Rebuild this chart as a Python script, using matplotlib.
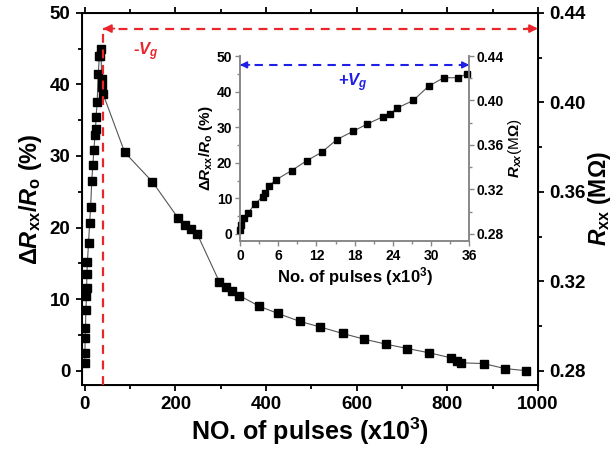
import numpy as np
import matplotlib.pyplot as plt
from matplotlib.ticker import MultipleLocator

plt.rcParams['font.family'] = ['Liberation Sans', 'DejaVu Sans']
plt.rcParams['font.weight'] = 'bold'
plt.rcParams['axes.labelweight'] = 'bold'
plt.rcParams['mathtext.fontset'] = 'custom'
plt.rcParams['mathtext.rm'] = 'Liberation Sans:bold'
plt.rcParams['mathtext.it'] = 'Liberation Sans:bold:italic'
plt.rcParams['mathtext.bf'] = 'Liberation Sans:bold'

# +Vg part (x in units of 10^3 pulses, y in %)
rise_x = [0, 0.15, 0.7, 1.3, 2.4, 3.55, 3.9, 4.5, 5.65, 8.1, 10.5, 12.8, 15.2,
          17.7, 20.0, 22.4, 23.6, 24.7, 27.2, 29.6, 32.0, 34.3, 35.6]
rise_y = [1.1, 2.5, 4.6, 6.0, 8.5, 10.5, 11.5, 13.5, 15.2, 17.8, 20.6, 22.9, 26.5,
          28.8, 30.9, 32.9, 33.8, 35.4, 37.5, 41.5, 43.9, 43.9, 45.0]

# -Vg part
fall_x = [37, 38, 40, 88, 149, 205, 220, 235, 248, 297, 312, 325, 341, 385, 426,
          474, 520, 569, 617, 665, 712, 760, 808, 822, 830, 880, 927, 974]
fall_y = [40.8, 39.6, 38.7, 30.5, 26.4, 21.4, 20.3, 19.8, 19.1, 12.4, 11.7, 11.1,
          10.5, 9.0, 8.0, 6.9, 6.1, 5.2, 4.4, 3.7, 3.1, 2.5, 1.8, 1.3, 1.1, 1.0,
          0.3, 0.0]

main_x = rise_x + fall_x
main_y = rise_y + fall_y

r0, k = 0.28, 0.0032   # R = r0 + k * dR
ylo, yhi = -2, 50

red = '#e8262c'
blue = '#1f1fe8'

fig = plt.figure(figsize=(6.16, 4.55), dpi=100)
ax = fig.add_axes([0.1326, 0.1538, 0.7407, 0.818])

ax.plot(main_x, main_y, '-', color='#555555', lw=0.8, zorder=2)
ax.plot(main_x, main_y, 's', color='black', ms=5.8, zorder=3)

ax.set_xlim(-7, 1000)
ax.set_ylim(ylo, yhi)
ax.xaxis.set_major_locator(MultipleLocator(200))
ax.xaxis.set_minor_locator(MultipleLocator(100))
ax.yaxis.set_major_locator(MultipleLocator(10))
ax.yaxis.set_minor_locator(MultipleLocator(5))
ax.tick_params(which='both', direction='out', width=1.3, labelsize=13.5)
ax.tick_params(which='major', length=4.5)
ax.tick_params(which='minor', length=3)
ax.tick_params(axis='x', which='both', top=True)
for s in ax.spines.values():
    s.set_linewidth(1.4)
ax.set_xlabel(r'NO. of pulses (x10$^{\mathbf{3}}$)', fontsize=18, labelpad=2)
ax.set_ylabel(r'$\Delta R_{\mathbf{xx}}/R_{\mathbf{o}}$ (%)', fontsize=17, labelpad=4)

ax2 = ax.twinx()
ax2.set_ylim(r0 + k * ylo, r0 + k * yhi)
ax2.yaxis.set_major_locator(MultipleLocator(0.04))
ax2.yaxis.set_minor_locator(MultipleLocator(0.02))
ax2.yaxis.set_major_formatter(plt.FormatStrFormatter('%.2f'))
ax2.tick_params(which='both', direction='out', width=1.3, labelsize=13.5)
ax2.tick_params(which='major', length=4.5)
ax2.tick_params(which='minor', length=3)
ax2.set_ylabel(r'$R_{\mathbf{xx}}$ (M$\Omega$)', fontsize=16.5, labelpad=0)

# -Vg marker lines
yv = 47.8
ax.plot([40, 40], [ylo, yv], '--', color=red, lw=1.6, dashes=(4, 3), zorder=4)
ax.plot([40, 1000], [yv, yv], '--', color=red, lw=1.6, dashes=(4, 3), zorder=4)
ax.annotate('', xy=(40, yv), xytext=(65, yv),
            arrowprops=dict(arrowstyle='-|>', color=red, lw=1.4, mutation_scale=12,
                            shrinkA=0, shrinkB=0))
ax.annotate('', xy=(1000, yv), xytext=(975, yv),
            arrowprops=dict(arrowstyle='-|>', color=red, lw=1.4, mutation_scale=12,
                            shrinkA=0, shrinkB=0))
ax.text(135, 44.6, r'-$V_{g}$', color=red, fontsize=12, ha='center', va='center')

# inset
ins = fig.add_axes([0.3896, 0.4703, 0.3722, 0.4066])
ins.plot(rise_x, rise_y, '-', color='#555555', lw=0.8, zorder=2)
ins.plot(rise_x, rise_y, 's', color='black', ms=4.8, zorder=3, clip_on=False)
ins.set_xlim(0, 36)
ins.set_ylim(ylo, yhi)
ins.xaxis.set_major_locator(MultipleLocator(6))
ins.xaxis.set_minor_locator(MultipleLocator(3))
ins.yaxis.set_major_locator(MultipleLocator(10))
ins.yaxis.set_minor_locator(MultipleLocator(5))
ins.spines['top'].set_visible(False)
for s in ins.spines.values():
    s.set_color('#888888')
    s.set_linewidth(1.2)
ins.tick_params(which='both', direction='out', color='#888888', width=1.0,
                labelsize=10, pad=2)
ins.tick_params(which='major', length=3.5)
ins.tick_params(which='minor', length=2)
ins.set_xlabel(r'No. of pulses (x10$^{\mathbf{3}}$)', fontsize=12, labelpad=2)
ins.set_ylabel(r'$\Delta R_{\mathbf{xx}}/R_{\mathbf{o}}$ (%)', fontsize=11, labelpad=1)

ins2 = ins.twinx()
ins2.set_ylim(r0 + k * ylo, r0 + k * yhi)
ins2.yaxis.set_major_locator(MultipleLocator(0.04))
ins2.yaxis.set_minor_locator(MultipleLocator(0.02))
ins2.yaxis.set_major_formatter(plt.FormatStrFormatter('%.2f'))
ins2.spines['top'].set_visible(False)
for s in ins2.spines.values():
    s.set_color('#888888')
    s.set_linewidth(1.2)
ins2.tick_params(which='both', direction='out', color='#888888', width=1.0,
                 labelsize=10, pad=2)
ins2.tick_params(which='major', length=3.5)
ins2.tick_params(which='minor', length=2)
ins2.set_ylabel(r'$R_{xx}$(M$\Omega$)', fontsize=11, fontweight='normal', labelpad=1)

ins.plot([0, 36], [47.5, 47.5], '--', color=blue, lw=1.5, dashes=(4, 3), zorder=4,
         clip_on=False)
ins.annotate('', xy=(0, 47.5), xytext=(1.5, 47.5),
             arrowprops=dict(arrowstyle='-|>', color=blue, lw=1.2, mutation_scale=10,
                             shrinkA=0, shrinkB=0))
ins.annotate('', xy=(36, 47.5), xytext=(34.5, 47.5),
             arrowprops=dict(arrowstyle='-|>', color=blue, lw=1.2, mutation_scale=10,
                             shrinkA=0, shrinkB=0))
ins.text(17.7, 42.6, r'+$V_{g}$', color=blue, fontsize=12, ha='center', va='center')

fig.savefig('out.png', dpi=100)
